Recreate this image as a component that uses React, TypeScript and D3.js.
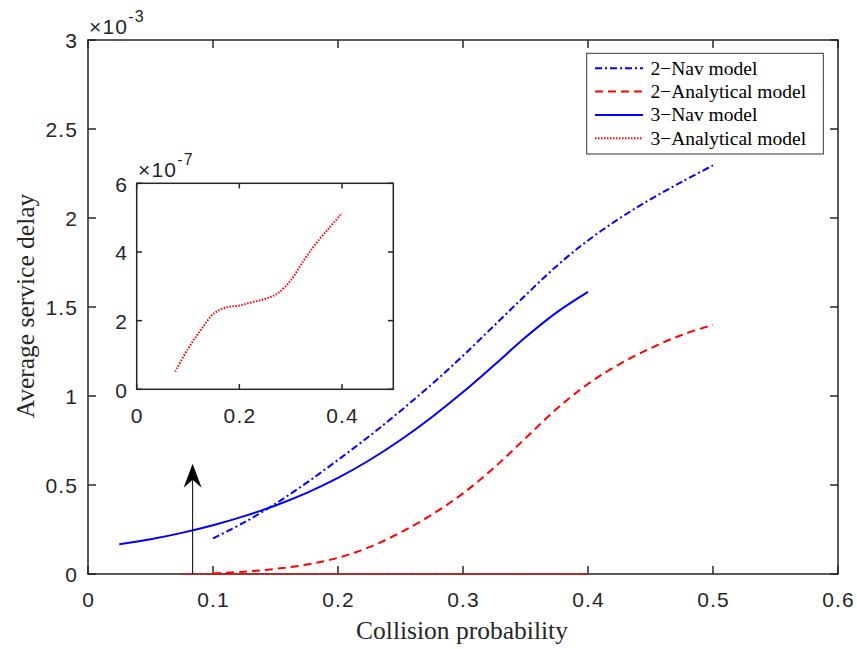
import React from 'react';
import * as d3 from 'd3';

// values (delay in units of 1e-3)
const nav3X = [0.025, 0.05, 0.075, 0.1, 0.125, 0.15, 0.175, 0.2, 0.225, 0.25, 0.275, 0.3, 0.325, 0.35, 0.375, 0.4];
const nav3Y = [0.167, 0.195, 0.231, 0.274, 0.325, 0.385, 0.456, 0.54, 0.639, 0.753, 0.881, 1.022, 1.174, 1.33, 1.47, 1.585];

const nav2X = [0.1, 0.125, 0.15, 0.175, 0.2, 0.225, 0.25, 0.275, 0.3, 0.325, 0.35, 0.375, 0.4, 0.425, 0.45, 0.475, 0.5];
const nav2Y = [0.2, 0.29, 0.395, 0.513, 0.641, 0.774, 0.916, 1.066, 1.226, 1.396, 1.566, 1.731, 1.874, 1.997, 2.105, 2.203, 2.296];

const ana2X = [0.1, 0.125, 0.15, 0.175, 0.2, 0.225, 0.25, 0.275, 0.3, 0.325, 0.35, 0.375, 0.4, 0.425, 0.45, 0.475, 0.5];
const ana2Y = [0.003, 0.013, 0.029, 0.053, 0.091, 0.151, 0.233, 0.333, 0.453, 0.598, 0.763, 0.928, 1.068, 1.178, 1.268, 1.343, 1.399];

// 3-analytical in units of 1e-7 (shown in the inset)
const ana3X = [0.075, 0.1, 0.125, 0.15, 0.175, 0.2, 0.225, 0.25, 0.275, 0.3, 0.325, 0.35, 0.375, 0.4];
const ana3Y = [0.52, 1.18, 1.73, 2.2, 2.39, 2.44, 2.54, 2.63, 2.8, 3.17, 3.74, 4.26, 4.7, 5.13];

const legendLabels = ['2\u2212Nav model', '2\u2212Analytical model', '3\u2212Nav model', '3\u2212Analytical model'];
const arrowAt = [0.0837, 0.62];

const AX = '#262626';
const SANS = '"Liberation Sans", Arial, sans-serif';
const SERIF = '"Liberation Serif", "Times New Roman", serif';
const LS = 1.2;

type S = { xs: number[]; ys: number[]; color: string; dash: string };

export default function App() {
  const x = d3.scaleLinear().domain([0, 0.6]).range([88, 838]);
  const y = d3.scaleLinear().domain([0, 3]).range([574, 40]);
  const ix = d3.scaleLinear().domain([0, 0.5]).range([136.7, 393.3]);
  const iy = d3.scaleLinear().domain([0, 6]).range([389.3, 183.3]);

  const series: S[] = [
    { xs: nav2X, ys: nav2Y, color: '#0000ff', dash: '7 3 2 3' },
    { xs: ana2X, ys: ana2Y, color: '#ff0000', dash: '8 5' },
    { xs: nav3X, ys: nav3Y, color: '#0000ff', dash: '' },
    { xs: ana3X, ys: ana3Y.map(v => v * 1e-4), color: '#ff0000', dash: '1.5 1.5' },
  ];

  const line = (sx: any, sy: any) =>
    d3.line<[number, number]>().x(d => sx(d[0])).y(d => sy(d[1])).curve(d3.curveCatmullRom.alpha(0.5));
  const mainLine = line(x, y);
  const insetLine = line(ix, iy);

  const xt = x.ticks(6);
  const yt = y.ticks(6);
  const ixt = [0, 0.2, 0.4];
  const iyt = [0, 2, 4, 6];
  const fmt = d3.format('~g');

  const ax = x(arrowAt[0]);
  const ay = y(arrowAt[1]);

  const tickText = { fontFamily: SANS, fontSize: 21, fill: AX, letterSpacing: LS };

  return (
    <svg width={857} height={649} style={{ position: 'absolute', left: 0, top: 0, background: '#fff' }}>
      {/* main axes box */}
      <rect x={88} y={40} width={750} height={534} fill="#fff" stroke={AX} strokeWidth={1.5} />
      {xt.map(t => (
        <g key={'x' + t}>
          <line x1={x(t)} x2={x(t)} y1={574} y2={566} stroke={AX} strokeWidth={1.5} />
          <line x1={x(t)} x2={x(t)} y1={40} y2={48} stroke={AX} strokeWidth={1.5} />
          <text x={x(t) + LS / 2} y={607} textAnchor="middle" {...tickText}>{fmt(t)}</text>
        </g>
      ))}
      {yt.map(t => (
        <g key={'y' + t}>
          <line x1={88} x2={96} y1={y(t)} y2={y(t)} stroke={AX} strokeWidth={1.5} />
          <line x1={838} x2={830} y1={y(t)} y2={y(t)} stroke={AX} strokeWidth={1.5} />
          <text x={77 + LS} y={y(t)} dy="0.4em" textAnchor="end" {...tickText}>{fmt(t)}</text>
        </g>
      ))}
      <text x={89} y={34} {...tickText}>
        ×10<tspan dy={-12} fontSize={16}>-3</tspan>
      </text>
      <text x={462} y={639} textAnchor="middle" fontFamily={SERIF} fontSize={25.5} fill={AX}>Collision probability</text>
      <text transform="translate(34,306) rotate(-90)" textAnchor="middle" fontFamily={SERIF} fontSize={25.5} fill={AX}>Average service delay</text>

      {/* data */}
      {series.map((s, i) => (
        <path key={i} d={mainLine(s.xs.map((v, j) => [v, s.ys[j]] as [number, number])) || ''}
          fill="none" stroke={s.color} strokeWidth={2} strokeDasharray={s.dash || undefined} />
      ))}

      {/* arrow */}
      <line x1={ax} x2={ax} y1={574} y2={ay + 12} stroke="#000" strokeWidth={1} />
      <path d={`M${ax},${ay} L${ax + 9},${ay + 24} L${ax},${ay + 16} L${ax - 9},${ay + 24} Z`} fill="#000" />

      {/* inset */}
      <rect x={136.7} y={183.3} width={256.6} height={206} fill="#fff" stroke={AX} strokeWidth={1.5} />
      {ixt.map(t => (
        <g key={'ix' + t}>
          <line x1={ix(t)} x2={ix(t)} y1={389.3} y2={384} stroke={AX} strokeWidth={1.5} />
          <line x1={ix(t)} x2={ix(t)} y1={183.3} y2={188.5} stroke={AX} strokeWidth={1.5} />
          <text x={ix(t) + LS / 2} y={423} textAnchor="middle" {...tickText}>{fmt(t)}</text>
        </g>
      ))}
      {iyt.map(t => (
        <g key={'iy' + t}>
          <line x1={136.7} x2={142} y1={iy(t)} y2={iy(t)} stroke={AX} strokeWidth={1.5} />
          <line x1={393.3} x2={388} y1={iy(t)} y2={iy(t)} stroke={AX} strokeWidth={1.5} />
          <text x={127 + LS} y={iy(t)} dy="0.4em" textAnchor="end" {...tickText}>{fmt(t)}</text>
        </g>
      ))}
      <text x={138} y={177} {...tickText}>
        ×10<tspan dy={-12} fontSize={16}>-7</tspan>
      </text>
      <path d={insetLine(ana3X.map((v, j) => [v, ana3Y[j]] as [number, number])) || ''}
        fill="none" stroke="#ff0000" strokeWidth={2} strokeDasharray="1.5 1.5" />

      {/* legend */}
      <rect x={586.7} y={53.3} width={236.6} height={100.7} fill="#fff" stroke="#333" strokeWidth={1} />
      {legendLabels.map((lab, i) => {
        const ly = 68.3 + i * 23.3;
        return (
          <g key={lab}>
            <line x1={595} x2={643} y1={ly} y2={ly} stroke={series[i].color} strokeWidth={2}
              strokeDasharray={series[i].dash || undefined} />
            <text x={650.5} y={ly} dy="0.33em" fontFamily={SERIF} fontSize={19.5} fill="#000">{lab}</text>
          </g>
        );
      })}
    </svg>
  );
}
